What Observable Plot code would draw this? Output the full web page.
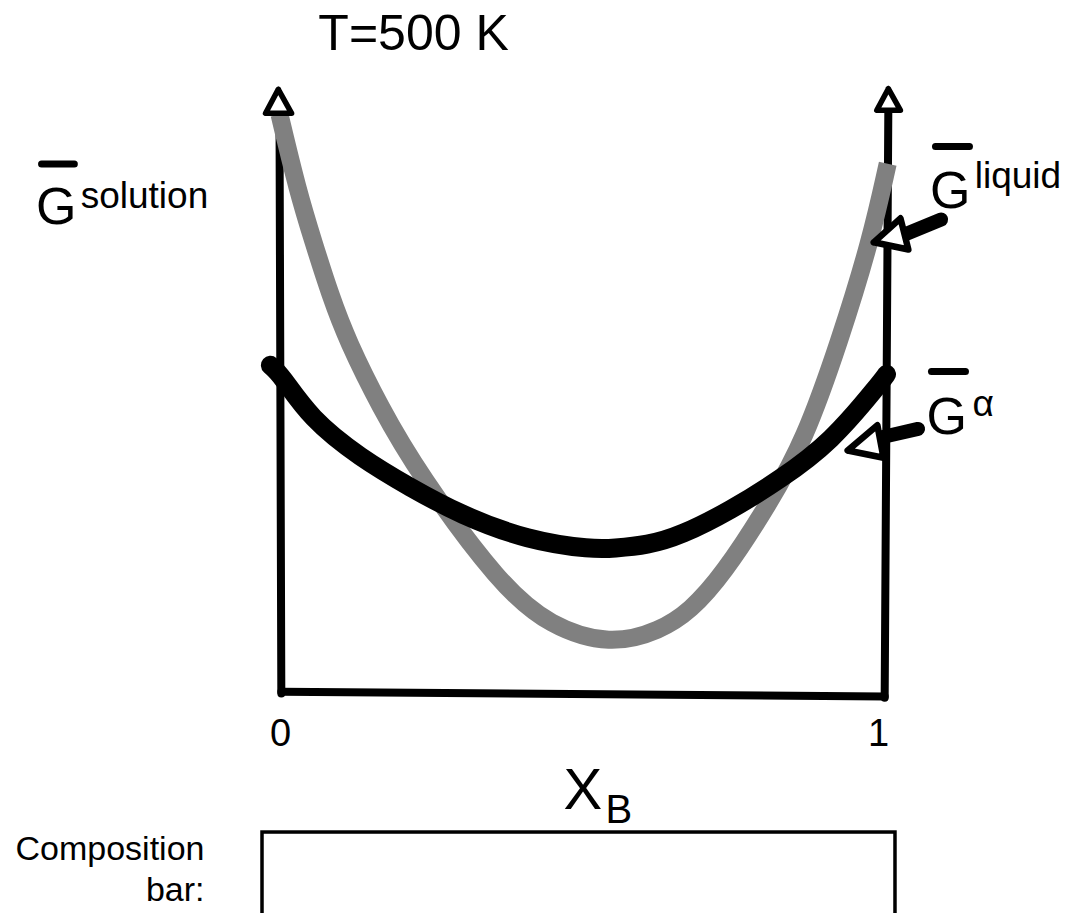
<!DOCTYPE html>
<html>
<head>
<meta charset="utf-8">
<script src="https://cdn.jsdelivr.net/npm/d3@7"></script>
<script src="https://cdn.jsdelivr.net/npm/@observablehq/plot@0.6"></script>
<style>
  html, body { margin: 0; padding: 0; background: white; }
  #chart svg { display: block; }
</style>
</head>
<body>
<div id="chart"></div>
<script>
// Composition X_B (0..1) and molar Gibbs energy (arbitrary units, 0 = bottom axis)
const liquidX = [0, 0.030, 0.056, 0.084, 0.112, 0.166, 0.229, 0.364, 0.446, 0.545, 0.628, 0.677, 0.730, 0.807, 0.865, 0.923, 0.974, 1.002];
const liquidG = [96.5, 83.8, 75.2, 66.3, 58.8, 47.7, 36.7, 18.0, 11.2, 8.0, 10.5, 13.8, 19.7, 31.7, 42.2, 58.8, 75.5, 88.3];

const alphaX = [-0.015, 0.002, 0.051, 0.133, 0.216, 0.298, 0.409, 0.517, 0.550, 0.606, 0.661, 0.743, 0.825, 0.908, 0.990, 1.0];
const alphaG = [54.7, 53.2, 45.8, 39.3, 34.3, 29.8, 25.5, 24.0, 24.2, 24.7, 26.3, 30.5, 35.7, 41.8, 51.8, 53.2];

const tickValues = [0, 1];
const tickLabels = ["0", "1"];

const title = "T=500 K";
const yLabelMain = "G";
const yLabelSup = "solution";
const liquidLabel = "liquid";
const alphaLabel = "α";
const xLabelMain = "X";
const xLabelSub = "B";
const barLabel = ["Composition", "bar:"];

const liquid = liquidX.map((x, i) => ({x, y: liquidG[i]}));
const alpha = alphaX.map((x, i) => ({x, y: alphaG[i]}));

// hand-drawn axis frame (data units)
const axisLines = [
  {x1: 0.0, y1: 96.7, x2: 0.003, y2: 0.0},
  {x1: 0.003, y1: 0.3, x2: 0.997, y2: -0.5},
  {x1: 1.003, y1: 97.2, x2: 0.997, y2: -0.7}
];
const axisHeads = [
  {id: "L", pts: [[-0.002, 100.7], [-0.023, 96.7], [0.020, 96.7]]},
  {id: "R", pts: [[1.003, 100.8], [0.984, 97.2], [1.023, 97.2]]}
];
// label pointer arrows
const pointerLines = [
  {x1: 1.090, y1: 79.0, x2: 1.035, y2: 76.7},
  {x1: 1.052, y1: 44.1, x2: 0.992, y2: 42.7}
];
const pointerHeads = [
  {id: "liq", pts: [[0.979, 75.2], [1.023, 79.2], [1.036, 74.0]]},
  {id: "alp", pts: [[0.936, 40.5], [0.985, 44.7], [0.995, 39.3]]}
];
const closeTri = (arr) => arr.flatMap(d => [...d.pts, d.pts[0]].map(([x, y]) => ({id: d.id, x, y})));

// overlines above the G symbols
const overlines = [
  {x1: -0.392, x2: -0.338, y: 88.25},
  {x1: 1.0807, x2: 1.1367, y: 91.17},
  {x1: 1.0741, x2: 1.1301, y: 53.67}
];

const composition = [{x1: -0.028, x2: 1.0148, y1: -23.17, y2: -38}];

const FONT = "'Liberation Sans', Arial, Helvetica, sans-serif";
const texts = [
  {x: 0.064, y: 107.3, text: title, size: 50, anchor: "start"},
  {x: -0.401, y: 78.3, text: yLabelMain, size: 52, anchor: "start"},
  {x: -0.3275, y: 81.0, text: yLabelSup, size: 37, anchor: "start"},
  {x: 1.0717, y: 81.0, text: yLabelMain, size: 52, anchor: "start"},
  {x: 1.1454, y: 84.17, text: liquidLabel, size: 37, anchor: "start"},
  {x: 1.066, y: 43.33, text: yLabelMain, size: 52, anchor: "start"},
  {x: 1.1417, y: 46.33, text: alphaLabel, size: 37, anchor: "start"},
  {x: tickValues[0] + 0.0016, y: -8.67, text: tickLabels[0], size: 38, anchor: "middle"},
  {x: tickValues[1] - 0.013, y: -8.67, text: tickLabels[1], size: 38, anchor: "middle"},
  {x: 0.468, y: -19.17, text: xLabelMain, size: 58, anchor: "start"},
  {x: 0.537, y: -21.5, text: xLabelSub, size: 40, anchor: "start"},
  {x: -0.1236, y: -27.83, text: barLabel[0], size: 34, anchor: "end"},
  {x: -0.1236, y: -34.5, text: barLabel[1], size: 34, anchor: "end"}
];

const textMarks = texts.map(t => Plot.text([t], {
  x: "x", y: "y", text: "text", fontSize: t.size, textAnchor: t.anchor,
  lineAnchor: "bottom", fill: "black", fontFamily: FONT
}));

const chart = Plot.plot({
  width: 1080,
  height: 913,
  marginLeft: 279,
  marginRight: 194,
  marginTop: 93,
  marginBottom: 220,
  style: {fontFamily: FONT, background: "white"},
  x: {domain: [0, 1], axis: null},
  y: {domain: [0, 100], axis: null},
  marks: [
    Plot.rect(composition, {x1: "x1", x2: "x2", y1: "y1", y2: "y2", fill: "none", stroke: "black", strokeWidth: 3.5}),
    Plot.link(axisLines, {x1: "x1", y1: "y1", x2: "x2", y2: "y2", stroke: "black", strokeWidth: 8, strokeLinecap: "round"}),
    Plot.line(liquid, {x: "x", y: "y", stroke: "#808080", strokeWidth: 18, curve: "basis", strokeLinecap: "butt", strokeLinejoin: "round"}),
    Plot.line(alpha, {x: "x", y: "y", stroke: "black", strokeWidth: 19, curve: "basis", strokeLinecap: "round", strokeLinejoin: "round"}),
    Plot.line(closeTri(axisHeads), {x: "x", y: "y", z: "id", fill: "white", stroke: "black", strokeWidth: 5.5, strokeLinejoin: "round", strokeLinecap: "round"}),
    Plot.link(pointerLines, {x1: "x1", y1: "y1", x2: "x2", y2: "y2", stroke: "black", strokeWidth: 14, strokeLinecap: "round"}),
    Plot.line(closeTri(pointerHeads), {x: "x", y: "y", z: "id", fill: "white", stroke: "black", strokeWidth: 6.5, strokeLinejoin: "round", strokeLinecap: "round"}),
    Plot.link(overlines, {x1: "x1", x2: "x2", y1: "y", y2: "y", stroke: "black", strokeWidth: 7, strokeLinecap: "round"}),
    ...textMarks
  ]
});
document.getElementById("chart").appendChild(chart);
</script>
</body>
</html>
